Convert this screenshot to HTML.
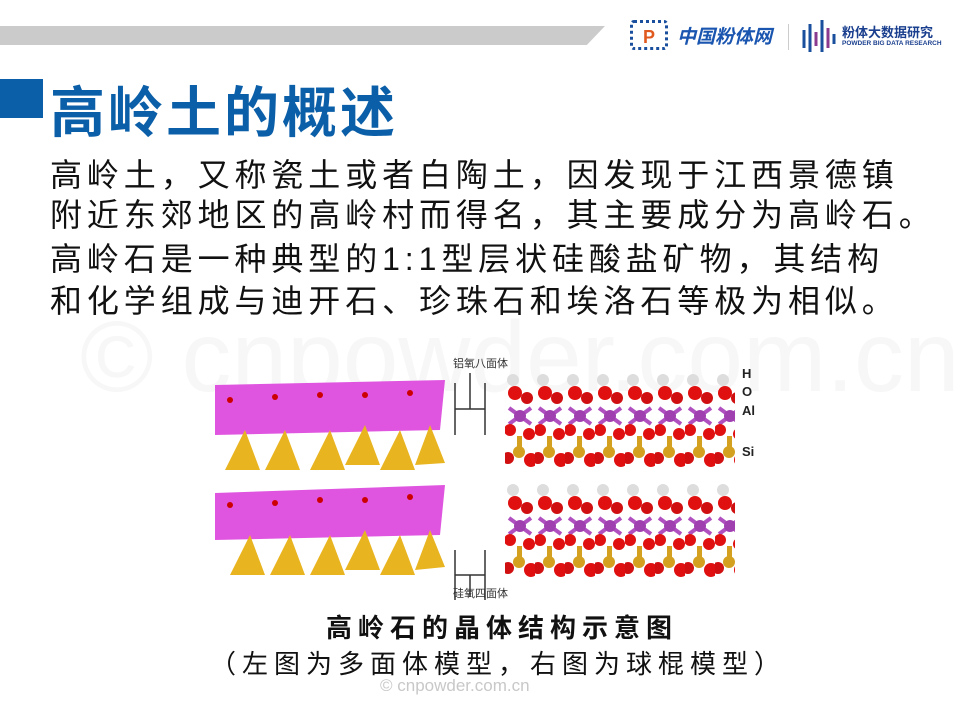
<!DOCTYPE html>
<html><head><meta charset="utf-8"><style>
body{margin:0;width:960px;height:720px;background:#fff;position:relative;overflow:hidden;font-family:"Liberation Sans","Noto Sans CJK SC",sans-serif}
.a{position:absolute;white-space:nowrap}
.l{font-size:32px;color:#111;left:50px;letter-spacing:4.9px;line-height:42px}
</style></head><body>
<div class="a" style="left:0;top:26px;width:605px;height:19px;background:#cbcbcb;clip-path:polygon(0 0,100% 0,97% 100%,0 100%)"></div>
<div class="a" style="left:630px;top:20px;width:38px;height:30px;border:3px dotted #1a4f9e;border-radius:4px;box-sizing:border-box"></div>
<div class="a" style="left:643px;top:27px;font-size:18px;color:#e05a20;font-weight:bold">P</div>
<div class="a" style="left:677px;top:22px;font-size:19px;font-weight:bold;color:#1a55b0;font-style:italic">中国粉体网</div>
<div class="a" style="left:788px;top:24px;width:1px;height:26px;background:#ccc"></div>
<svg class="a" style="left:800px;top:18px" width="38" height="36"><g stroke-width="3"><line x1="4" y1="12" x2="4" y2="30" stroke="#1a4f9e"/><line x1="10" y1="6" x2="10" y2="34" stroke="#1a4f9e"/><line x1="16" y1="14" x2="16" y2="28" stroke="#8a3b8f"/><line x1="22" y1="2" x2="22" y2="34" stroke="#1a4f9e"/><line x1="28" y1="10" x2="28" y2="30" stroke="#8a3b8f"/><line x1="34" y1="16" x2="34" y2="26" stroke="#1a4f9e"/></g></svg>
<div class="a" style="left:842px;top:22px;font-size:13px;font-weight:bold;color:#1a3f8e">粉体大数据研究</div>
<div class="a" style="left:842px;top:40px;font-size:6.5px;font-weight:bold;color:#1a3f8e">POWDER BIG DATA RESEARCH</div>
<div class="a" style="left:0;top:79px;width:43px;height:39px;background:#0b5fa8"></div>
<div class="a" style="left:50px;top:68px;font-size:55px;font-weight:bold;color:#0b5fa8;letter-spacing:3px">高岭土的概述</div>
<div class="a" style="left:80px;top:300px;font-size:100px;color:#f7f7f7">© cnpowder.com.cn</div>
<div class="a l" style="top:154px">高岭土，又称瓷土或者白陶土，因发现于江西景德镇</div>
<div class="a l" style="top:194px">附近东郊地区的高岭村而得名，其主要成分为高岭石。</div>
<div class="a l" style="top:238px">高岭石是一种典型的1:1型层状硅酸盐矿物，其结构</div>
<div class="a l" style="top:280px">和化学组成与迪开石、珍珠石和埃洛石等极为相似。</div>
<svg class="a" style="left:215px;top:345px" width="545" height="255">
<defs>
<g id="cell">
<circle cx="8" cy="10" r="6" fill="#ddd"/><circle cx="10" cy="23" r="7" fill="#e01010"/><circle cx="22" cy="28" r="6" fill="#d01010"/>
<line x1="4" y1="38" x2="26" y2="54" stroke="#b050c0" stroke-width="4"/><line x1="26" y1="38" x2="4" y2="54" stroke="#b050c0" stroke-width="4"/>
<circle cx="15" cy="46" r="6" fill="#a040b0"/><circle cx="5" cy="60" r="6" fill="#e01010"/><circle cx="24" cy="64" r="6" fill="#e01010"/>
<rect x="12" y="66" width="5" height="16" fill="#d4a020"/><circle cx="14" cy="82" r="6" fill="#d4a020"/><circle cx="26" cy="90" r="7" fill="#e01010"/><circle cx="3" cy="88" r="6" fill="#d01010"/>
</g>
<pattern id="p1" x="290" y="25" width="30" height="100" patternUnits="userSpaceOnUse"><use href="#cell"/></pattern>
<pattern id="p2" x="290" y="135" width="30" height="100" patternUnits="userSpaceOnUse"><use href="#cell"/></pattern>
</defs>
<polygon points="0,40 230,35 225,85 0,90" fill="#e055e0"/>
<g fill="#e8b420"><polygon points="10,125 30,85 45,125"/><polygon points="50,125 70,85 85,125"/><polygon points="95,125 115,85 130,125"/><polygon points="130,120 150,80 165,120"/><polygon points="165,125 185,85 200,125"/><polygon points="200,120 215,80 230,118"/></g>
<polygon points="0,148 230,140 225,190 0,195" fill="#e055e0"/>
<g fill="#e8b420"><polygon points="15,230 35,190 50,230"/><polygon points="55,230 75,190 90,230"/><polygon points="95,230 115,190 130,230"/><polygon points="130,225 150,185 165,225"/><polygon points="165,230 185,190 200,230"/><polygon points="200,225 215,185 230,222"/></g>
<g fill="#c00">
<circle cx="15" cy="55" r="3"/><circle cx="60" cy="52" r="3"/><circle cx="105" cy="50" r="3"/><circle cx="150" cy="50" r="3"/><circle cx="195" cy="48" r="3"/>
<circle cx="15" cy="160" r="3"/><circle cx="60" cy="158" r="3"/><circle cx="105" cy="155" r="3"/><circle cx="150" cy="155" r="3"/><circle cx="195" cy="152" r="3"/></g>
<g stroke="#333" stroke-width="1.5" fill="none"><path d="M240 38v52M240 64h30M270 38v52M255 64V28"/><path d="M240 205v50M240 230h30M270 205v50M255 230v22"/></g>
<text x="238" y="22" font-size="11" fill="#333">铝氧八面体</text>
<text x="238" y="252" font-size="11" fill="#333">硅氧四面体</text>
<rect x="290" y="25" width="230" height="100" fill="url(#p1)"/>
<rect x="290" y="135" width="230" height="100" fill="url(#p2)"/>
<g font-size="13" fill="#222" font-weight="bold"><text x="527" y="33">H</text><text x="527" y="51">O</text><text x="527" y="70">Al</text><text x="527" y="111">Si</text></g>
</svg>
<div class="a" style="left:0;width:960px;text-align:center;top:608px;font-size:26px;font-weight:bold;color:#111;letter-spacing:6px;padding-left:44px;box-sizing:border-box">高岭石的晶体结构示意图</div>
<div class="a" style="left:0;width:960px;text-align:center;top:644px;font-size:26px;color:#111;letter-spacing:6px;padding-left:36px;box-sizing:border-box">（左图为多面体模型，右图为球棍模型）</div>
<div class="a" style="left:380px;top:676px;font-size:17px;color:#c8c8c8">© cnpowder.com.cn</div>
</body></html>
